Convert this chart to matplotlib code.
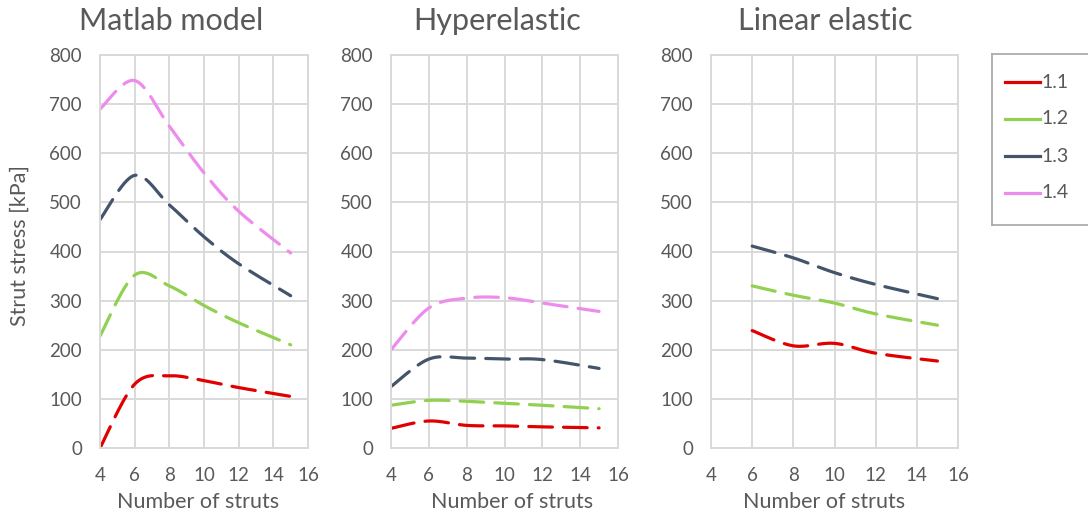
import numpy as np
import matplotlib.pyplot as plt

plt.rcParams['font.family'] = ['Lato', 'DejaVu Sans']
plt.rcParams['lines.scale_dashes'] = False

# strut count on the x axis
struts = [4, 6, 8, 10, 12, 15]
struts_lin = [6, 8, 10, 12, 15]

series_names = ['1.1', '1.2', '1.3', '1.4']
colors = ['#E00000', '#92D050', '#44546A', '#EE8CEE']

# strut stress [kPa], one list per stretch ratio
matlab_11 = [0, 130, 147, 137, 123, 105]
matlab_12 = [228, 352, 330, 290, 255, 210]
matlab_13 = [465, 555, 495, 430, 375, 310]
matlab_14 = [690, 748, 655, 560, 482, 397]

hyper_11 = [40, 55, 46, 45, 43, 41]
hyper_12 = [87, 97, 95, 91, 87, 80]
hyper_13 = [125, 181, 183, 181, 180, 162]
hyper_14 = [200, 285, 305, 306, 295, 278]

linear_11 = [239, 208, 213, 193, 177]
linear_12 = [330, 311, 295, 273, 250]
linear_13 = [411, 387, 357, 333, 304]

panels = [
    ('Matlab model', struts, [matlab_11, matlab_12, matlab_13, matlab_14]),
    ('Hyperelastic', struts, [hyper_11, hyper_12, hyper_13, hyper_14]),
    ('Linear elastic', struts_lin, [linear_11, linear_12, linear_13, None]),
]

text_col = '#595959'
grid_col = '#D9D9D9'


def smooth(x, y, n=30):
    """Catmull-Rom style smoothing (same as a spreadsheet 'smoothed line')."""
    x = np.asarray(x, float)
    y = np.asarray(y, float)
    px = np.concatenate([[x[0]], x, [x[-1]]])
    py = np.concatenate([[y[0]], y, [y[-1]]])
    xs, ys = [], []
    t = np.linspace(0, 1, n)
    for i in range(1, len(px) - 2):
        p0 = np.array([px[i], py[i]])
        p3 = np.array([px[i + 1], py[i + 1]])
        p1 = p0 + (p3 - np.array([px[i - 1], py[i - 1]])) / 6
        p2 = p3 - (np.array([px[i + 2], py[i + 2]]) - p0) / 6
        b = ((1 - t) ** 3)[:, None] * p0 + (3 * (1 - t) ** 2 * t)[:, None] * p1 \
            + (3 * (1 - t) * t ** 2)[:, None] * p2 + (t ** 3)[:, None] * p3
        xs.append(b[:, 0])
        ys.append(b[:, 1])
    return np.concatenate(xs), np.concatenate(ys)


fig = plt.figure(figsize=(10.88, 5.17), dpi=100)

W, H = 1088, 517
boxes = [(100, 208), (391, 227), (711, 247)]
title_x = [171, 497, 825]
xlabel_x = [198, 512, 824]

for k, (title, xs, data) in enumerate(panels):
    left, width = boxes[k]
    ax = fig.add_axes([left / W, 1 - 448 / H, width / W, 393 / H])
    for j, ys in enumerate(data):
        if ys is None:
            continue
        sx, sy = smooth(xs, ys)
        line, = ax.plot(sx, sy, color=colors[j], lw=2.3, solid_capstyle='butt',
                        dash_capstyle='round')
        line.set_dashes([17, 8])
    ax.set_xlim(4, 16)
    ax.set_ylim(0, 800)
    ax.set_xticks(range(4, 17, 2))
    ax.set_yticks(range(0, 801, 100))
    ax.grid(True, color=grid_col, lw=1.4)
    ax.set_axisbelow(True)
    for s in ax.spines.values():
        s.set_color(grid_col)
        s.set_linewidth(1.4)
    ax.tick_params(length=0, labelsize=13.5, colors=text_col)
    ax.tick_params(axis='y', pad=13)
    ax.tick_params(axis='x', pad=14)
    fig.text(title_x[k] / W, 1 - 21 / H, title, ha='center', va='center',
             fontsize=22, color=text_col)
    fig.text(xlabel_x[k] / W, 1 - 502 / H, 'Number of struts', ha='center',
             va='center', fontsize=15.5, color=text_col)

fig.text(20 / W, 1 - 245 / H, 'Strut stress [kPa]', rotation=90, ha='center',
         va='center', fontsize=15.5, color=text_col)

# legend with solid short lines
lax = fig.add_axes([992 / W, 1 - 225 / H, 100 / W, 171 / H])
lax.set_xlim(0, 100)
lax.set_ylim(171, 0)
lax.set_xticks([])
lax.set_yticks([])
for s in lax.spines.values():
    s.set_color('#A6A6A6')
    s.set_linewidth(1.2)
for j, name in enumerate(series_names):
    yy = 28 + 37 * j
    lax.plot([13, 48], [yy, yy], color=colors[j], lw=2.3)
    lax.text(49, yy, name, va='center', ha='left', fontsize=14, color=text_col)

fig.savefig('out.png', dpi=100)
